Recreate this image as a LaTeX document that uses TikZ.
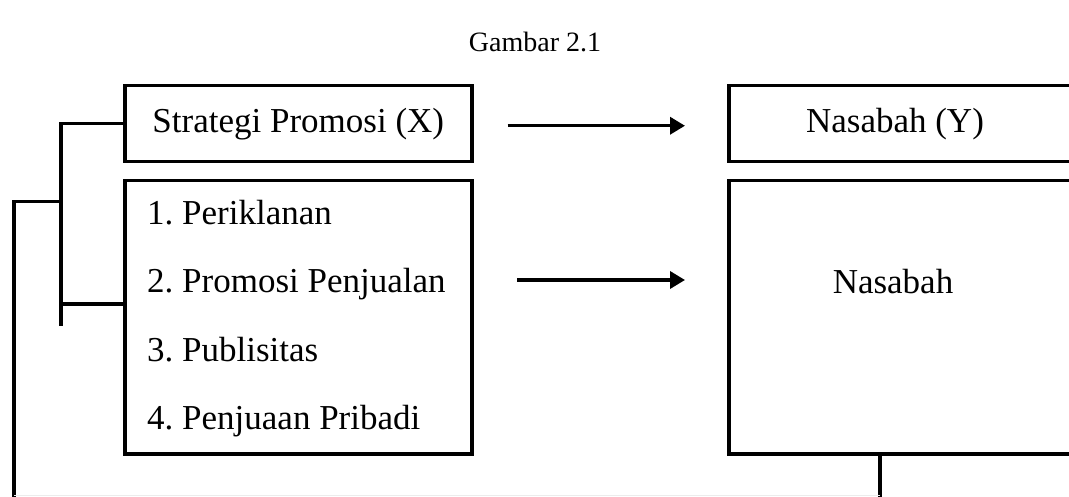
\documentclass[tikz,border=0pt]{standalone}
\usepackage{fontspec}
\setmainfont{Liberation Serif}
\usetikzlibrary{calc}
\usetikzlibrary{positioning}
\usetikzlibrary{arrows.meta}
\frenchspacing

\begin{document}
\begin{tikzpicture}[x=1pt, y=-1pt,
            box/.style={rectangle, draw=black, line width=3.5pt, anchor=north west, inner sep=0pt},
            conn/.style={line width=3.5pt},
            arr/.style={line width=3.5pt, -{Triangle[length=15pt, width=17pt]}},
            item/.style={anchor=base west, inner sep=0pt},
            font=\fontsize{35}{42}\selectfont]
            \clip (0, 0) rectangle (1069, 497);
            \node (title) at (535, 42) {\fontsize{28}{34}\selectfont Gambar 2.1};
            \node[box, minimum width=347pt, minimum height=76pt] (X) at (123, 84) {Strategi Promosi (X)};
            \node[box, minimum width=347pt, minimum height=273pt] (ind) at (123, 179) {};
            \node[box, minimum width=400pt, minimum height=76pt] (Y) at (727, 84) {};
            \node[box, minimum width=400pt, minimum height=273pt] (nas) at (727, 179) {};
            \node (Ylabel) at ($(Y.west) + (168, 0)$) {Nasabah (Y)};
            \node (naslabel) at ($(nas.west) + (166, -36)$) {Nasabah};
            \coordinate (A) at ($(ind.north west) + (24, 46)$);
            \foreach \x[count=\i from 1] in {Periklanan, Promosi Penjualan, Publisitas, Penjuaan Pribadi}
            {
                \node[item] (item\i) at (A) {\i. \x};
                \coordinate (A) at ($(A) + (0, 68)$);
            }
            \coordinate (j1) at ($(X.west) + (-62, 0)$);
            \coordinate (j2) at ($(ind.north west) + (-62, 125)$);
            \coordinate (j3) at ($(j1) + (0, 78)$);
            \draw[conn] (X.west) -- (j1) -- ($(j2) + (0, 22)$);
            \draw[conn] (j2) -- ($(ind.north west) + (0, 125)$);
            \draw[conn] (j3) -- ++(-47, 0) coordinate (j4) -- (j4 |- 0, 500);
            \draw[conn] ($(nas.south west) + (153, 0)$) coordinate (d1) -- (d1 |- 0, 500);
            \draw[gray!15, line width=1pt] (j4 |- 0, 495) -- (d1 |- 0, 495);
            \draw[arr] ($(X.east) + (34, 2)$) -- ($(Y.west) + (-42, 2)$);
            \draw[arr] ($(ind.north west) + (394, 101)$) -- ($(nas.north west) + (-42, 101)$);
\end{tikzpicture}
\end{document}
